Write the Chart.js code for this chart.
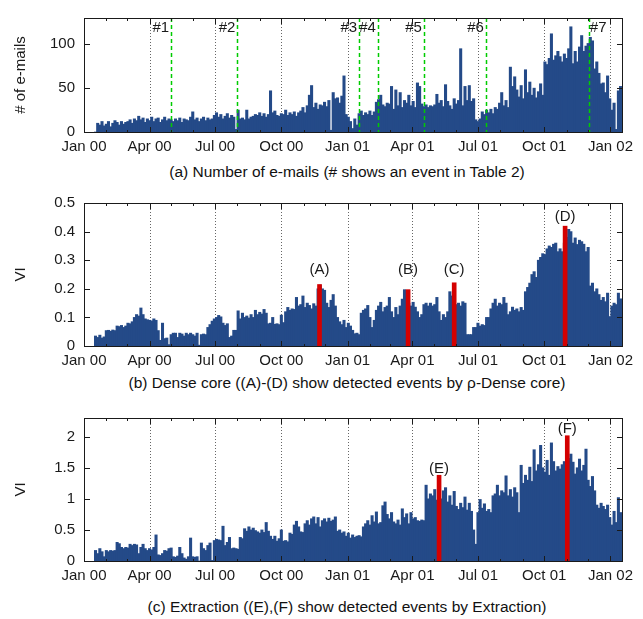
<!DOCTYPE html>
<html>
<head>
<meta charset="utf-8">
<script src="https://cdn.jsdelivr.net/npm/chart.js@4.4.1/dist/chart.umd.min.js"></script>
<style>
  body { margin: 0; background: #fff; width: 643px; height: 619px; position: relative; overflow: hidden;
         font-family: "Liberation Sans", Arial, sans-serif; }
  canvas { position: absolute; left: 0; }
  .cap { position: absolute; left: 347px; transform: translateX(-50%); white-space: nowrap;
         font-size: 15.5px; line-height: 18px; color: #111; }
</style>
</head>
<body>
<canvas id="c1" width="643" height="160" style="top:0"></canvas>
<canvas id="c2" width="643" height="185" style="top:185px"></canvas>
<canvas id="c3" width="643" height="185" style="top:400px"></canvas>
<div class="cap" style="top:163px">(a) Number of e-mails (# shows an event in Table 2)</div>
<div class="cap" style="top:374px">(b) Dense core ((A)-(D) show detected events by ρ-Dense core)</div>
<div class="cap" style="top:598px">(c) Extraction ((E),(F) show detected events by Extraction)</div>
<script>
// days counted from 1 Jan 2000, one value per 3-day bin starting on day 15
const startDay = 15;
const binDays = 3;

const tickDays = [0, 91, 182, 274, 366, 456, 547, 639, 731];
const tickLabels = ['Jan 00', 'Apr 00', 'Jul 00', 'Oct 00', 'Jan 01', 'Apr 01', 'Jul 01', 'Oct 01', 'Jan 02'];
const monthDays = [0, 31, 60, 91, 121, 152, 182, 213, 244, 274, 305, 335, 366, 397, 425, 456, 486, 517, 547, 578, 609, 639, 670, 700, 731];

const emails = [
  0, 10, 8, 12, 7,
  9, 12, 6, 10, 13, 11, 8, 12, 9, 11,
  12, 14, 10, 15, 13, 18, 14, 16, 11, 15,
  13, 17, 12, 15, 16, 11, 14, 17, 13, 15,
  14, 12, 15, 13, 16, 11, 15, 14, 13, 17,
  23, 14, 16, 12, 15, 17, 13, 16, 14, 15,
  19, 22, 17, 20, 15, 18, 21, 16, 19, 17,
  3, 25, 15, 16, 14, 25, 15, 17, 18, 20,
  19, 22, 18, 21, 17, 20, 47, 22, 24, 19,
  18, 21, 20, 25, 19, 22, 20, 23, 18, 22,
  24, 28, 22, 30, 42, 53, 28, 33, 26, 31,
  30, 34, 29, 36, 2, 45, 38, 39, 33, 41,
  64, 20, 17, 12, 4, 15, 8, 21, 24, 19,
  22, 20, 24, 19, 23, 34, 37, 42, 31, 29,
  33, 32, 52, 26, 48, 30, 45, 28, 36, 33,
  42, 30, 35, 28, 56, 52, 32, 29, 31, 28,
  30, 29, 31, 43, 33, 36, 29, 54, 35, 30,
  26, 38, 32, 36, 95, 30, 52, 36, 53, 35,
  38, 14, 12, 15, 23, 20, 25, 22, 26, 21,
  28, 26, 33, 45, 30, 36, 28, 74, 52, 63,
  48, 40, 53, 38, 71, 45, 57, 42, 50, 39,
  46, 55, 42, 80, 77, 84, 112, 82, 87, 92,
  86, 80, 89, 84, 95, 120, 78, 92, 80, 97,
  110, 92, 98, 101, 108, 104, 72, 80, 67, 55,
  56, 45, 64, 38, 25, 33, 3, 47, 52
];

const denseCore = [
  0.035, 0.03, 0.038, 0.028, 0.032,
  0.054, 0.055, 0.052, 0.056, 0.054, 0.07, 0.068, 0.072, 0.065, 0.07,
  0.08, 0.078, 0.085, 0.1, 0.11, 0.105, 0.133, 0.11, 0.095, 0.092,
  0.09, 0.088, 0.095, 0.09, 0.054, 0.02, 0.08, 0.026, 0.028, 0.005,
  0.04, 0.045, 0.045, 0.03, 0.045, 0.042, 0.035, 0.045, 0.04, 0.045,
  0.04, 0.035, 0.045, 0.003, 0.04, 0.042, 0.04, 0.065, 0.075, 0.087,
  0.095, 0.1, 0.107, 0.102, 0.08, 0.072, 0.078, 0.03, 0.035, 0.055,
  0.055, 0.123, 0.095, 0.115, 0.1, 0.105, 0.098, 0.11, 0.1, 0.125,
  0.11, 0.118, 0.112, 0.128, 0.115, 0.078, 0.08, 0.1, 0.076, 0.078,
  0.075, 0.108, 0.082, 0.12, 0.135, 0.125, 0.13, 0.128, 0.17, 0.14,
  0.145, 0.175, 0.135, 0.15, 0.142, 0.13, 0.148, 0.14, 0.2, 0.213,
  0.2, 0.195, 0.15, 0.135, 0.16, 0.18, 0.14, 0.1, 0.085, 0.075,
  0.09, 0.065, 0.08, 0.07, 0.055, 0.043, 0.045, 0.04, 0.115, 0.125,
  0.13, 0.142, 0.1, 0.065, 0.09, 0.125, 0.14, 0.153, 0.12, 0.135,
  0.14, 0.17, 0.12, 0.1, 0.135, 0.11, 0.14, 0.164, 0.197, 0.18,
  0.15, 0.14, 0.153, 0.136, 0.12, 0.1, 0.11, 0.145, 0.15, 0.14,
  0.15, 0.14, 0.145, 0.17, 0.12, 0.09, 0.11, 0.1, 0.12, 0.19,
  0.175, 0.2, 0.145, 0.15, 0.14, 0.155, 0.15, 0.04, 0.04, 0.04,
  0.065, 0.065, 0.08, 0.07, 0.075, 0.072, 0.1, 0.1, 0.13, 0.15,
  0.164, 0.14, 0.15, 0.145, 0.17, 0.15, 0.11, 0.12, 0.136, 0.125,
  0.13, 0.12, 0.135, 0.125, 0.19, 0.205, 0.22, 0.25, 0.26, 0.24,
  0.3, 0.31, 0.323, 0.32, 0.34, 0.35, 0.345, 0.356, 0.36, 0.33,
  0.34, 0.33, 0.36, 0.38, 0.408, 0.4, 0.36, 0.378, 0.355, 0.37,
  0.365, 0.356, 0.33, 0.345, 0.21, 0.22, 0.19, 0.2, 0.18, 0.16,
  0.17, 0.155, 0.185, 0.103, 0.14, 0.15, 0.145, 0.185, 0.165
];

const extraction = [
  0.17, 0.12, 0.2, 0.15, 0.07,
  0.17, 0.15, 0.17, 0.16, 0.17, 0.3, 0.28, 0.22, 0.2, 0.22,
  0.21, 0.27, 0.25, 0.27, 0.26, 0.12, 0.22, 0.27, 0.2, 0.17,
  0.2, 0.18, 0.22, 0.42, 0.1, 0.09, 0.12, 0.17, 0.16, 0.2,
  0.21, 0.07, 0.06, 0.08, 0.22, 0.12, 0.05, 0.03, 0.07, 0.37,
  0.07, 0.06, 0.07, 0.0, 0.29, 0.2, 0.17, 0.25, 0.29, 0.01,
  0.33, 0.35, 0.34, 0.33, 0.56, 0.25, 0.3, 0.38, 0.2, 0.21,
  0.2, 0.19, 0.38, 0.36, 0.52, 0.48, 0.55, 0.5, 0.53, 0.49,
  0.47, 0.45, 0.5, 0.46, 0.62, 0.48, 0.4, 0.35, 0.4, 0.32,
  0.36, 0.5, 0.32, 0.33, 0.31, 0.45, 0.43, 0.58, 0.64, 0.55,
  0.47, 0.46, 0.6, 0.65, 0.58, 0.68, 0.71, 0.6, 0.7, 0.55,
  0.65, 0.68, 0.63, 0.69, 0.64, 0.66, 0.71, 0.48, 0.5, 0.45,
  0.47, 0.4, 0.45, 0.37, 0.42, 0.38, 0.4, 0.41, 0.39, 0.55,
  0.6, 0.65, 0.58, 0.73, 0.63, 0.79, 0.6, 0.62, 0.89, 0.95,
  0.75, 0.68, 0.78, 0.63, 0.6, 0.66, 0.58, 0.84, 0.7, 0.76,
  0.6, 0.78, 0.68, 0.7, 0.65, 0.64, 0.66, 0.65, 1.22, 1.0,
  1.08, 1.05, 1.15, 0.98, 1.1, 1.0, 1.13, 1.18, 0.95, 1.05,
  0.9, 1.12, 0.88, 0.83, 0.93, 0.86, 1.03, 0.82, 0.93, 0.8,
  0.5, 0.27, 0.78, 0.99, 0.85, 0.92, 0.8, 0.83, 0.78, 1.05,
  1.08, 1.22, 1.05, 1.13, 1.1, 1.37, 1.05, 1.15, 1.03, 1.18,
  1.1, 0.78, 1.54, 1.25, 1.38, 1.3, 1.51, 1.28, 1.79, 1.45,
  1.55, 1.86, 1.5, 1.43, 1.62, 1.38, 1.9, 1.6, 1.45, 1.52,
  1.48, 1.55, 1.6, 1.78, 1.65, 1.72, 1.59, 1.4, 1.5, 1.64,
  1.45, 1.54, 1.8, 1.3, 1.2, 1.36, 1.13, 0.9, 0.85, 0.93,
  0.88, 0.83, 0.9, 0.7, 0.58, 0.8, 0.62, 1.02, 0.78
];

// events in Table 2 (green lines in panel a)
const emailEventDays = [121, 213, 382, 408, 472, 558, 701];
const emailEventLabels = ['#1', '#2', '#3', '#4', '#5', '#6', '#7'];

// detected events (red bars)
const denseEventDays = [327, 450, 514, 668];
const denseEventValues = [0.215, 0.197, 0.221, 0.419];
const denseEventLabels = ['(A)', '(B)', '(C)', '(D)'];
const denseLabelValues = [0.265, 0.265, 0.265, 0.453];

const extrEventDays = [493, 671];
const extrEventValues = [1.379, 2.015];
const extrEventLabels = ['(E)', '(F)'];
const extrLabelValues = [1.48, 2.13];

const FONT = '"Liberation Sans", Arial, sans-serif';
const BLUE = '#244a88';
const RED = '#d40000';
const INK = '#1a1a1a';

// gnuplot style box: frame, inward ticks on all four sides
function drawFrame(chart) {
  const ctx = chart.ctx;
  const a = chart.chartArea;
  const x = chart.scales.x, y = chart.scales.y;
  const l = Math.round(a.left), r = Math.round(a.right);
  const t = Math.round(a.top), b = Math.round(a.bottom);
  ctx.save();
  ctx.fillStyle = INK;
  ctx.fillRect(l, t, r - l + 1, 1);
  ctx.fillRect(l, b, r - l + 1, 1);
  ctx.fillRect(l, t, 1, b - t + 1);
  ctx.fillRect(r, t, 1, b - t + 1);
  monthDays.forEach(d => {
    const px = Math.round(x.getPixelForValue(d));
    const len = tickDays.indexOf(d) >= 0 ? 6 : 3;
    ctx.fillRect(px, t, 1, len);
    ctx.fillRect(px, b - len + 1, 1, len);
  });
  y.ticks.forEach(tk => {
    const py = Math.round(y.getPixelForValue(tk.value));
    ctx.fillRect(l, py, 6, 1);
    ctx.fillRect(r - 5, py, 6, 1);
  });
  ctx.restore();
}

const framePlugin = {
  id: 'frame',
  beforeDatasetsDraw(chart) {
    const { ctx, chartArea: a } = chart;
    const x = chart.scales.x;
    ctx.save();
    ctx.strokeStyle = '#666';
    ctx.lineWidth = 1;
    ctx.setLineDash([1, 2]);
    ctx.beginPath();
    tickDays.forEach(d => {
      if (d === 0) return;
      const px = Math.round(x.getPixelForValue(d)) + 0.5;
      ctx.moveTo(px, a.top);
      ctx.lineTo(px, a.bottom);
    });
    ctx.stroke();
    ctx.restore();
  },
  afterDraw(chart, args, opts) {
    const { ctx, chartArea: a } = chart;
    const x = chart.scales.x, y = chart.scales.y;
    ctx.save();
    ctx.font = '15px ' + FONT;
    ctx.fillStyle = INK;

    if (opts.lineDays) {
      ctx.strokeStyle = '#00cc00';
      ctx.lineWidth = 1.5;
      ctx.setLineDash([4, 3]);
      ctx.beginPath();
      opts.lineDays.forEach(d => {
        const px = Math.round(x.getPixelForValue(d)) + 0.5;
        ctx.moveTo(px, a.top);
        ctx.lineTo(px, a.bottom);
      });
      ctx.stroke();
      ctx.setLineDash([]);
      ctx.textBaseline = 'middle';
      opts.lineDays.forEach((d, i) => {
        const px = x.getPixelForValue(d);
        if (i === opts.lineDays.length - 1) {
          ctx.textAlign = 'left';
          ctx.fillText(opts.lineLabels[i], px + 1, a.top + 10);
        } else {
          ctx.textAlign = 'right';
          ctx.fillText(opts.lineLabels[i], px - 2, a.top + 10);
        }
      });
    }

    if (opts.labelDays) {
      ctx.textAlign = 'center';
      ctx.textBaseline = 'middle';
      opts.labelDays.forEach((d, i) => {
        ctx.fillText(opts.labels[i], x.getPixelForValue(d), y.getPixelForValue(opts.labelValues[i]));
      });
    }
    ctx.restore();
    drawFrame(chart);
  }
};

function makeChart(id, values, yMax, yTicks, yTitle, axisHeight, padTop, events, frameOpts) {
  const points = values.map((v, i) => ({ x: startDay + i * binDays + 1, y: v }));
  const datasets = [{
    data: points,
    backgroundColor: BLUE,
    borderWidth: 0,
    barThickness: 2.4,
    grouped: false,
    order: 2
  }];
  if (events) {
    datasets.push({
      data: events.days.map((d, i) => ({ x: d, y: events.values[i] })),
      backgroundColor: RED,
      borderWidth: 0,
      barThickness: 4,
      grouped: false,
      order: 1
    });
  }
  return new Chart(document.getElementById(id), {
    type: 'bar',
    data: { datasets },
    plugins: [framePlugin],
    options: {
      responsive: false,
      animation: false,
      events: [],
      layout: { padding: { left: 0, right: 21, top: padTop, bottom: 0 } },
      plugins: { legend: { display: false }, tooltip: { enabled: false }, frame: frameOpts },
      scales: {
        x: {
          type: 'linear',
          offset: false,
          min: 0,
          max: 747,
          grid: { display: false, drawTicks: false },
          border: { display: false },
          afterBuildTicks: s => { s.ticks = tickDays.map(v => ({ value: v })); },
          afterFit: s => { s.height = axisHeight; },
          ticks: {
            autoSkip: false,
            maxRotation: 0,
            padding: 6,
            color: INK,
            font: { family: FONT, size: 15 },
            callback: v => tickLabels[tickDays.indexOf(v)]
          }
        },
        y: {
          min: 0,
          max: yMax,
          grid: { display: false, drawTicks: false },
          border: { display: false },
          afterBuildTicks: s => { s.ticks = yTicks.map(v => ({ value: v })); },
          afterFit: s => { s.width = 84; },
          ticks: {
            padding: 9,
            color: INK,
            font: { family: FONT, size: 15 },
            callback: v => String(v)
          },
          title: {
            display: true,
            text: yTitle,
            color: INK,
            font: { family: FONT, size: 15 },
            padding: { top: 12, bottom: 0 }
          }
        }
      }
    }
  });
}

makeChart('c1', emails, 130, [0, 50, 100], '# of e-mails', 28, 5, null,
  { lineDays: emailEventDays, lineLabels: emailEventLabels });
makeChart('c2', denseCore, 0.5, [0, 0.1, 0.2, 0.3, 0.4, 0.5], 'VI', 24, 10,
  { days: denseEventDays, values: denseEventValues },
  { labelDays: denseEventDays, labels: denseEventLabels, labelValues: denseLabelValues });
makeChart('c3', extraction, 2.3, [0, 0.5, 1, 1.5, 2], 'VI', 24, 10,
  { days: extrEventDays, values: extrEventValues },
  { labelDays: extrEventDays, labels: extrEventLabels, labelValues: extrLabelValues });
</script>
</body>
</html>
